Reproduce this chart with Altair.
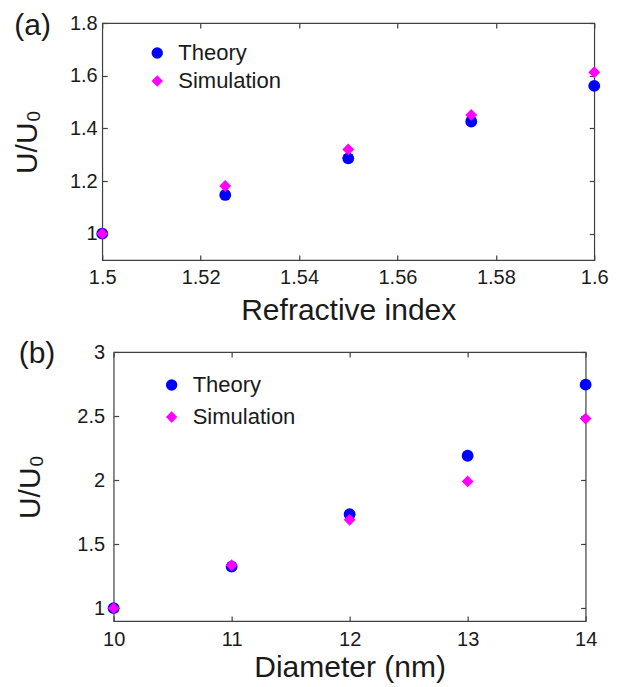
import altair as alt
import pandas as pd

# Panel (a)
ri = [1.5, 1.525, 1.55, 1.575, 1.6]
a_theory = [1.0, 1.147, 1.286, 1.426, 1.561]
a_sim = [1.0, 1.181, 1.32, 1.451, 1.613]

# Panel (b)
diam = [10, 11, 12, 13, 14]
b_theory = [1.0, 1.325, 1.734, 2.19, 2.745]
b_sim = [1.0, 1.335, 1.69, 1.99, 2.48]

series = ["Theory", "Simulation"]
colors = ["#0000FF", "#FF00FF"]
shapes = ["circle", "diamond"]

FONT = "Liberation Sans"
TXT = "#1a1a1a"
FRAME = "#404040"


def long_df(xs, th, sim):
    rows = [{"x": x, "y": y, "s": "Theory"} for x, y in zip(xs, th)]
    rows += [{"x": x, "y": y, "s": "Simulation"} for x, y in zip(xs, sim)]
    return pd.DataFrame(rows)


def panel(df, xdom, ydom, xvals, yvals, xtitle, label, w, h, lab_dx, lab_dy,
          legend_x, legend_y, row_pad, ylabpad, ytitlepad, xlabpad, xtitlepad):
    xs = alt.Scale(domain=xdom, nice=False, zero=False)
    ys = alt.Scale(domain=ydom, nice=False, zero=False)
    common_axis = dict(domain=False, grid=False, tickSize=5, offset=-5,
                       tickColor=FRAME, tickWidth=1.2, labelFont=FONT, labelFontSize=20,
                       labelColor=TXT, titleFont=FONT, titleFontSize=30,
                       titleColor=TXT, titleFontWeight="normal", format="~g")
    leg = alt.Legend(title=None, orient="none", legendX=legend_x, legendY=legend_y,
                     labelFont=FONT, labelFontSize=22, labelColor=TXT,
                     symbolSize=130, rowPadding=row_pad, labelOffset=10,
                     symbolStrokeWidth=0)
    main = alt.Chart(df).mark_point(filled=True, opacity=1, size=140).encode(
        x=alt.X("x:Q", scale=xs, title=xtitle,
                axis=alt.Axis(values=xvals, labelPadding=xlabpad, titlePadding=xtitlepad,
                              labelFlush=False, **common_axis)),
        y=alt.Y("y:Q", scale=ys, title="U/U\u2080",
                axis=alt.Axis(values=yvals, labelPadding=ylabpad, titlePadding=ytitlepad,
                              labelFlush=False, **common_axis)),
        color=alt.Color("s:N", scale=alt.Scale(domain=series, range=colors), legend=leg),
        shape=alt.Shape("s:N", scale=alt.Scale(domain=series, range=shapes), legend=leg),
        order=alt.Order("s:N", sort="descending"),
    )
    mirror = alt.Chart(df).mark_point(opacity=0).encode(
        x=alt.X("x:Q", scale=xs, title=None,
                axis=alt.Axis(orient="top", values=xvals, labels=False, **common_axis)),
        y=alt.Y("y:Q", scale=ys, title=None,
                axis=alt.Axis(orient="right", values=yvals, labels=False, **common_axis)),
    )
    lab = alt.Chart(pd.DataFrame({"t": [label]})).mark_text(
        font=FONT, fontSize=30, color=TXT, align="left", baseline="middle"
    ).encode(text="t:N", x=alt.value(lab_dx), y=alt.value(lab_dy))
    return alt.layer(main, mirror, lab).resolve_axis(
        x="independent", y="independent").properties(width=w, height=h)


pa = panel(long_df(ri, a_theory, a_sim), [1.5, 1.6], [0.9, 1.8],
           [1.5, 1.52, 1.54, 1.56, 1.58, 1.6], [1.0, 1.2, 1.4, 1.6, 1.8],
           "Refractive index", "(a)", 492, 237, -88, 3,
           44, 19, 6, 5, 27, 7, 8)
pb = panel(long_df(diam, b_theory, b_sim), [10, 14], [0.9, 3.0],
           [10, 11, 12, 13, 14], [1.0, 1.5, 2.0, 2.5, 3.0],
           "Diameter (nm)", "(b)", 472, 269, -95, 2,
           47, 22, 10, 9, 31, 8, 3)

chart = alt.vconcat(pa, pb, spacing=12, center=True).resolve_scale(
    color="independent", shape="independent"
).resolve_legend(
    color="independent", shape="independent"
).properties(
    padding={"left": 3, "top": 2, "right": 0, "bottom": 0}
).configure_view(
    stroke=FRAME, strokeWidth=1.2
)

chart.save("out.html", embed_options={"renderer": "svg", "actions": False})
